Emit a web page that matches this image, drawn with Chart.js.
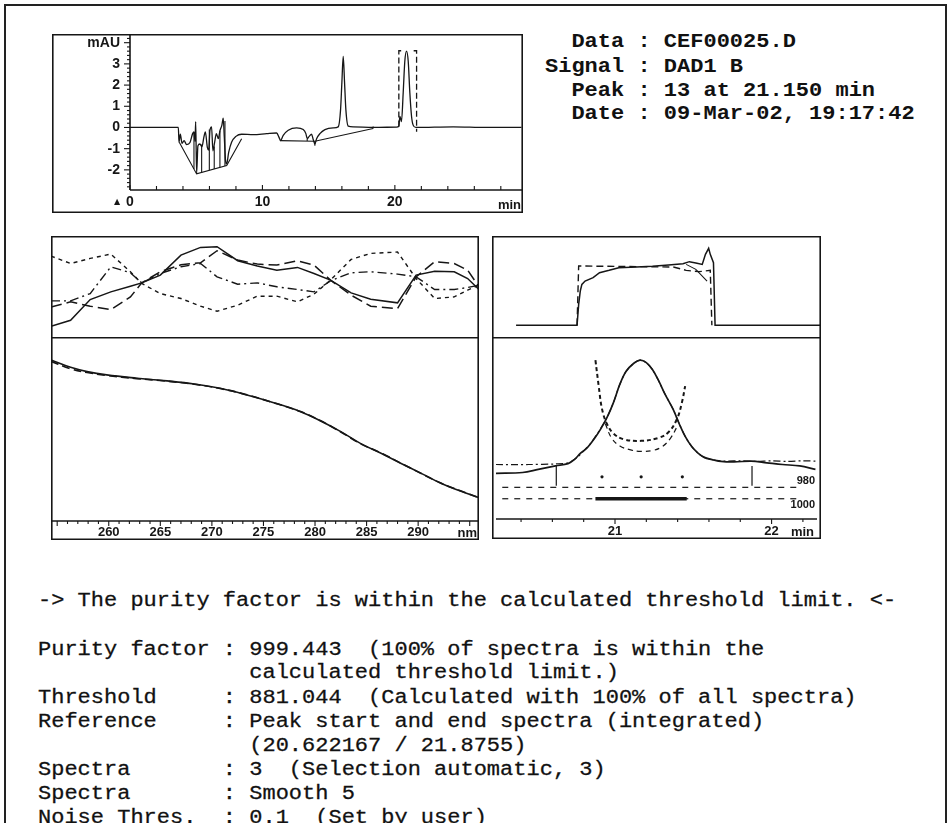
<!DOCTYPE html>
<html><head><meta charset="utf-8">
<script src="https://cdn.jsdelivr.net/npm/chart.js"></script>
<style>
html,body{margin:0;padding:0;background:#fff;}
body{width:950px;height:823px;position:relative;overflow:hidden;}
canvas{position:absolute;}
.txt{position:absolute;margin:0;font-family:"Liberation Mono","DejaVu Sans Mono",monospace;font-size:22px;line-height:26.8px;color:#111;white-space:pre;transform:scaleY(0.9);transform-origin:0 0;}
#rep{-webkit-text-stroke:0.3px #111;}
#border{position:absolute;left:4px;top:4px;width:943px;height:840px;border:2.5px solid #222;box-sizing:border-box;}
</style></head><body>
<div id="border"></div>
<canvas id="c1" width="471" height="179" style="left:52px;top:34px"></canvas>
<canvas id="c2a" width="428" height="101" style="left:51px;top:236px"></canvas>
<canvas id="c2b" width="428" height="203" style="left:51px;top:337px"></canvas>
<canvas id="c3a" width="329" height="101" style="left:492px;top:236px"></canvas>
<canvas id="c3b" width="329" height="202" style="left:492px;top:337px"></canvas>
<pre class="txt" id="hdr" style="left:545px;top:31px;font-weight:bold"></pre>
<pre class="txt" id="rep" style="left:38px;top:590px"></pre>
<script>
// ---------------- DATA ----------------
// Top chromatogram (min, mAU)
const chromTimes = [0,3.52,3.65,3.70,3.80,3.93,4.08,4.28,4.53,4.73,4.83,4.91,4.96,5.03,5.13,5.28,5.43,5.58,5.69,5.84,5.94,6.04,6.16,6.26,6.39,6.52,6.67,6.79,6.94,7.04,7.12,7.22,7.30,7.45,7.67,8.00,8.43,9.31,10.32,11.07,11.27,11.37,11.57,11.95,12.58,13.08,13.28,13.38,13.53,13.71,13.84,13.96,14.09,14.34,14.72,15.35,15.72,15.90,16.00,16.10,16.20,16.30,16.48,16.86,18.36,20.13,20.30,20.38,20.50,20.63,20.75,20.88,21.01,21.13,21.26,21.38,21.58,24.40,26.92,29.56];
const chromValues = [0,0,0,-0.70,-0.32,-0.75,-0.62,-0.81,-0.71,-0.29,-0.21,-0.65,0.28,-2.16,-0.86,-0.78,-0.91,-0.45,-0.21,-0.94,-1.07,-0.13,0.03,-1.10,-0.70,-0.29,-0.53,-0.16,0.11,0.44,-0.45,-1.59,-1.72,-1.18,-0.70,-0.42,-0.32,-0.34,-0.29,-0.26,-0.49,-0.62,-0.37,-0.13,-0.02,-0.10,-0.29,-0.53,-0.42,-0.32,-0.58,-0.78,-0.53,-0.29,-0.10,-0.02,0.03,0.84,2.14,3.35,2.14,0.84,0.06,0.03,0,0.02,0.06,0.52,0.28,1.65,3.11,3.6,3.11,1.65,0.52,0.11,0,0.03,0,0];
const baseTimes = [3.72,5.03,7.30,8.43,8.43,11.32,13.96,18.36];
const baseValues = [-0.70,-2.19,-1.80,-0.53,null,-0.62,-0.65,-0.05];
const dropTimes = [4.83,5.41,5.99,6.36,6.79,7.17,13.38,13.96,18.36];
const dropLow = [-1.96,-2.12,-2.02,-1.96,-1.89,-1.82,-0.64,-0.86,-0.05];
const dropHigh = [-0.21,-0.80,-0.10,-0.90,-0.16,0.30,-0.53,-0.65,0.05];
const bracketTimes = [20.30,20.30,20.52,20.52,21.42,21.64,21.64];
const bracketValues = [0.05,3.62,3.62,null,3.62,3.62,-0.2];
const chromXTicks = [0,10,20];
const chromYTickValues = [-2,-1,0,1,2,3,4];
const chromYTickLabels = ['-2','-1','0','1','2','3','mAU'];

// Middle-left upper: spectral difference curves (nm, relative)
const diffWl = [254.4,256.3,258.2,260.2,262.1,263.2,265.0,267.0,268.9,270.5,272.5,274.4,276.3,278.3,279.9,281.5,283.5,285.4,288.0,289.8,291.6,293.5,294.8,295.9];
const diffSolid = [10.6,16.6,37.1,44.7,50.3,53.6,61.3,81.1,88.7,89.4,75.5,70.2,66.2,68.9,62.9,56.3,43.7,37.4,33.8,61.3,65.2,64.6,57.9,47.0];
const diffLongDash = [29.8,34.8,30.5,27.2,39.7,53.6,64.6,71.5,73.5,85.4,76.2,72.2,71.2,75.5,71.2,56.3,41.4,30.5,28.1,59.6,74.5,72.8,66.2,49.7];
const diffDashDot = [35.8,35.8,43.0,69.5,63.6,53.6,62.9,69.5,72.8,59.6,52.3,53.6,49.7,47.0,44.7,55.6,63.6,64.6,62.3,59.6,47.0,47.0,49.0,51.3];
const diffShortDash = [80.1,72.8,77.8,82.1,64.6,53.0,43.0,38.1,30.5,25.5,31.5,40.4,40.4,34.8,42.4,56.3,76.8,82.8,84.1,57.9,38.1,39.7,46.4,51.3];

// Middle-left lower: normalized spectra
const specWl = [254.4,256.3,257.9,259.8,262.7,265.3,268.3,270.8,273.4,276.0,278.6,280.5,282.5,284.4,286.4,288.3,290.3,292.2,294.1,295.9];
const specA = [87.3,83.3,81.0,79.2,77.4,76.1,74.3,71.9,68.3,64.1,59.2,54.3,48.4,42.0,36.6,31.2,25.7,20.3,16.1,12.5];
const specB = [86.6,82.5,80.5,78.9,77.2,76.0,74.1,71.8,68.4,64.0,59.3,54.4,48.2,41.8,36.8,31.3,25.6,20.4,16.2,12.4];
const specXTicks = [260,265,270,275,280,285,290];

// Middle-right upper: similarity curve
const simTimes = [20.39,20.77,20.78,20.79,20.80,20.82,20.87,20.91,20.97,21.03,21.14,21.24,21.34,21.43,21.47,21.51,21.55,21.57,21.59,21.60,21.62,21.63,22.29];
const simValues = [11.6,11.6,32.3,45.5,52.1,55.4,58.7,63.7,66.0,68.6,69.3,70.0,71.3,72.6,74.6,73.3,71.9,81.8,87.8,81.8,73.6,11.6,11.6];
const simLowTimes = [21.45,21.51,21.58];
const simLowValues = [71.9,67.0,55.4];
const refTimes = [20.77,20.78,21.37,21.45,21.53,21.60,21.61];
const refValues = [11.6,70.3,69.3,66.0,64.7,66.0,11.6];

// Middle-right lower: peak, threshold curves
const peakTimes = [20.24,20.41,20.51,20.62,20.70,20.74,20.78,20.82,20.87,20.91,20.95,20.99,21.03,21.07,21.12,21.16,21.20,21.24,21.28,21.32,21.37,21.41,21.45,21.49,21.53,21.57,21.62,21.66,21.76,21.87,21.97,22.07,22.18,22.28];
const peakValues = [-0.37,-0.34,-0.23,-0.11,-0.03,0.11,0.34,0.51,0.86,1.2,1.6,2.11,2.74,3.2,3.49,3.6,3.51,3.26,2.86,2.4,1.89,1.37,0.91,0.57,0.34,0.19,0.11,0.06,0.03,0.06,0,-0.06,-0.11,-0.23];
const overlayTimes = [20.24,20.45,20.62,20.70,20.76,20.80,20.84,20.87,20.91,20.95,20.99,21.03,21.07,21.12,21.16,21.20,21.24,21.28,21.32,21.37,21.41,21.45,21.49,21.53,21.57,21.62,21.70,21.80,21.90,22.00,22.10,22.20,22.28];
const overlayValues = [-0.06,-0.06,-0.04,0.0,0.2,0.42,0.65,0.88,1.22,1.6,2.11,2.74,3.2,3.49,3.6,3.51,3.26,2.86,2.4,1.89,1.37,0.91,0.57,0.34,0.19,0.11,0.06,0.07,0.05,0.07,0.05,0.07,0.06];
const thrATimes = [20.875,20.896,20.917,20.948,20.99,21.052,21.167,21.281,21.344,21.396,21.427,21.448];
const thrAValues = [3.6,2.69,1.89,1.37,1.03,0.83,0.77,0.88,1.09,1.54,2.11,2.69];
const thrBTimes = [20.938,20.979,21.031,21.094,21.167,21.24,21.302,21.354,21.396];
const thrBValues = [1.37,0.86,0.59,0.46,0.40,0.43,0.57,0.86,1.26];
const limitTimes = [20.28,22.16];
const limit980 = -0.86;
const limit1000 = -1.26;
const selTimes = [20.875,21.458];
const spectraDotTimes = [20.917,21.167,21.43];
const spectraDotValue = -0.49;
const markerTimes = [20.625,21.875];
const markerLow = -0.8, markerHigh = -0.11;
const peakXTicks = [21,22];

// Texts
const infoLines = ['  Data : CEF00025.D','Signal : DAD1 B','  Peak : 13 at 21.150 min','  Date : 09-Mar-02, 19:17:42'];
const reportLines = [
 '-> The purity factor is within the calculated threshold limit. <-',
 '',
 'Purity factor : 999.443  (100% of spectra is within the',
 '                calculated threshold limit.)',
 'Threshold     : 881.044  (Calculated with 100% of all spectra)',
 'Reference     : Peak start and end spectra (integrated)',
 '                (20.622167 / 21.8755)',
 'Spectra       : 3  (Selection automatic, 3)',
 'Spectra       : Smooth 5',
 'Noise Thres.  : 0.1  (Set by user)'];

document.getElementById('hdr').textContent = infoLines.join('\n');
document.getElementById('rep').textContent = reportLines.join('\n');

// ---------------- HELPERS ----------------
const INK = '#161616';
const tickFont = {family:'"Liberation Sans", Arial, sans-serif', size:13, weight:'bold'};
const tickFontBig = {family:'"Liberation Sans", Arial, sans-serif', size:14, weight:'bold'};
const pts = (xs, ys) => xs.map((x,i) => ({x:x, y:ys[i]}));
const flat = (xs, v) => xs.map(x => ({x:x, y:v}));
const ds = (data, extra) => Object.assign({data, borderColor:INK, borderWidth:1.4, pointRadius:0, fill:false, tension:0}, extra||{});

const decor = {
  id:'decor',
  afterDraw(chart, args, o) {
    const {ctx, chartArea:a, width:W, height:H} = chart;
    ctx.save();
    ctx.strokeStyle = INK; ctx.fillStyle = INK; ctx.setLineDash([]);
    const seg = (x1,y1,x2,y2) => {ctx.beginPath(); ctx.moveTo(x1,y1); ctx.lineTo(x2,y2); ctx.stroke();};
    ctx.lineWidth = 1.6;
    const h = 0.8, box = o.box || '', area = o.area || '';
    if (box.includes('t')) seg(0,h,W,h);
    if (box.includes('b')) seg(0,H-h,W,H-h);
    if (box.includes('l')) seg(h,0,h,H);
    if (box.includes('r')) seg(W-h,0,W-h,H);
    if (area.includes('l')) seg(a.left,a.top,a.left,a.bottom);
    if (area.includes('b')) seg(a.left,a.bottom,a.right,a.bottom);
    ctx.lineWidth = 1.1;
    (o.ticks||[]).forEach(t => {
      const s = chart.scales[t.scale];
      const n = Math.round((t.to - t.from)/t.step);
      for (let i=0;i<=n;i++) {
        const v = t.from + i*t.step;
        const major = Math.abs(v/t.major - Math.round(v/t.major)) < 1e-6;
        const L = major ? t.majorLen : t.len;
        const p = s.getPixelForValue(v);
        if (s.isHorizontal()) seg(p, a.bottom, p, a.bottom + t.dir*L);
        else seg(a.left, p, a.left - L, p);
      }
    });
    (o.texts||[]).forEach(t => {
      ctx.font = t.font; ctx.textAlign = t.align||'left'; ctx.textBaseline = 'middle';
      const y = (t.yv !== undefined) ? chart.scales.y.getPixelForValue(t.yv) + t.dy : a.bottom + t.dy;
      ctx.fillText(t.text, a.right + t.dx, y);
    });
    ctx.restore();
  }
};

function xScale(min, max, ticks, h, pad, font) {
  return {type:'linear', min, max, display: ticks ? true : false,
    afterBuildTicks: s => { if (ticks) s.ticks = ticks.map(v => ({value:v})); },
    afterFit: s => { s.height = h; s.paddingLeft = 0; s.paddingRight = 0; },
    ticks:{font:font||tickFont, color:INK, padding:pad||5, autoSkip:false, maxRotation:0, callback:v => String(v)},
    grid:{display:false, drawTicks:false}, border:{display:false}};
}
function yScale(min, max) {
  return {type:'linear', min, max, display:false,
    afterFit: s => { s.width = 0; s.paddingTop = 0; s.paddingBottom = 0; },
    grid:{display:false, drawTicks:false}, border:{display:false}};
}
function make(id, datasets, scales, decorOpts, padding) {
  return new Chart(document.getElementById(id), {
    type:'line',
    data:{datasets},
    options:{responsive:false, animation:false, maintainAspectRatio:false,
      layout:{padding: padding || 0},
      plugins:{legend:{display:false}, tooltip:{enabled:false}, decor:decorOpts},
      scales},
    plugins:[decor]
  });
}

// ---------------- CHART 1: chromatogram ----------------
make('c1', [
  ds(pts(chromTimes, chromValues), {borderWidth:1.3, cubicInterpolationMode:'monotone'}),
  ds(pts(baseTimes, baseValues), {borderWidth:1.1}),
  ds(dropTimes.flatMap((t,i) => [{x:t,y:dropLow[i]},{x:t,y:dropHigh[i]},{x:t,y:null}]), {borderWidth:1.1}),
  ds(pts(bracketTimes, bracketValues), {borderWidth:1.3, borderDash:[6,3]})
], {
  x: xScale(0, 29.6, chromXTicks, 23, 4, tickFontBig),
  y: {type:'linear', min:-2.95, max:4.41,
      afterBuildTicks: s => { s.ticks = chromYTickValues.map(v => ({value:v})); },
      afterFit: s => { s.width = 78; s.paddingTop = 0; s.paddingBottom = 0; },
      ticks:{font:tickFontBig, color:INK, padding:10, autoSkip:false, callback:(v,i) => chromYTickLabels[i]},
      grid:{display:false, drawTicks:false}, border:{display:false}}
}, {
  box:'tlrb', area:'lb',
  ticks:[{scale:'y', from:-2.8, to:4.4, step:0.2, major:1, len:3, majorLen:6},
         {scale:'x', from:0, to:28, step:2, major:10, len:4, majorLen:5, dir:-1}],
  texts:[{text:'min', font:'bold 13px "Liberation Sans", Arial, sans-serif', align:'right', dx:-1, dy:15},
         {text:'\u25B2', font:'8px "DejaVu Sans", sans-serif', align:'center', dx:-405, dy:12}]
}, {right:1});

// ---------------- CHART 2a: difference curves ----------------
make('c2a', [
  ds(pts(diffWl, diffSolid), {borderWidth:1.5}),
  ds(pts(diffWl, diffLongDash), {borderWidth:1.5, borderDash:[11,5]}),
  ds(pts(diffWl, diffDashDot), {borderWidth:1.4, borderDash:[9,4,2,4]}),
  ds(pts(diffWl, diffShortDash), {borderWidth:1.4, borderDash:[4,4]})
], {x: xScale(254.4, 295.9, null, 0), y: yScale(0, 100)}, {box:'tlr'});

// ---------------- CHART 2b: spectra ----------------
make('c2b', [
  ds(pts(specWl, specA), {borderWidth:1.6, tension:0.4}),
  ds(pts(specWl, specB), {borderWidth:1.6, tension:0.4, borderDash:[8,4]})
], {x: xScale(254.4, 295.9, specXTicks, 19, 4), y: yScale(-0.2, 99.8)}, {
  box:'tlrb', area:'b',
  ticks:[{scale:'x', from:255, to:295, step:1, major:5, len:3, majorLen:5, dir:1}],
  texts:[{text:'nm', font:'bold 13px "Liberation Sans", Arial, sans-serif', align:'right', dx:-2, dy:12}]
});

// ---------------- CHART 3a: similarity ----------------
make('c3a', [
  ds(pts(simTimes, simValues), {borderWidth:1.5}),
  ds(pts(simLowTimes, simLowValues), {borderWidth:1.1}),
  ds(pts(refTimes, refValues), {borderWidth:1.4, borderDash:[7,4]})
], {x: xScale(20.24, 22.29, null, 0), y: yScale(0, 100)}, {box:'tlr'});

// ---------------- CHART 3b: peak purity ----------------
make('c3b', [
  ds(pts(peakTimes, peakValues), {borderWidth:1.7, tension:0.35}),
  ds(pts(overlayTimes, overlayValues), {borderWidth:1.2, tension:0.3, borderDash:[7,3,2,3]}),
  ds(pts(thrATimes, thrAValues), {borderWidth:2.0, tension:0.4, borderDash:[4,3]}),
  ds(pts(thrBTimes, thrBValues), {borderWidth:1.2, tension:0.4, borderDash:[5,4]}),
  ds(flat(limitTimes, limit980), {borderWidth:1.2, borderDash:[6,6]}),
  ds(flat(limitTimes, limit1000), {borderWidth:1.2, borderDash:[6,6]}),
  ds(flat(selTimes, limit1000), {borderWidth:3.6}),
  ds(markerTimes.flatMap(t => [{x:t,y:markerLow},{x:t,y:markerHigh},{x:t,y:null}]), {borderWidth:1.2}),
  ds(flat(spectraDotTimes, spectraDotValue), {showLine:false, pointRadius:1.6, pointBackgroundColor:INK, pointBorderWidth:0})
], {x: xScale(20.24, 22.29, peakXTicks, 20, 5), y: yScale(-1.97, 4.27)}, {
  box:'tlrb', area:'b',
  ticks:[{scale:'x', from:20.4, to:22.2, step:0.2, major:1, len:3, majorLen:5, dir:1}],
  texts:[{text:'min', font:'bold 13px "Liberation Sans", Arial, sans-serif', align:'right', dx:-3, dy:13},
         {text:'980', yv:limit980, dy:-6, font:'bold 11px "Liberation Sans", Arial, sans-serif', align:'right', dx:-2},
         {text:'1000', yv:limit1000, dy:6, font:'bold 11px "Liberation Sans", Arial, sans-serif', align:'right', dx:-2}]
});
</script>
</body></html>
